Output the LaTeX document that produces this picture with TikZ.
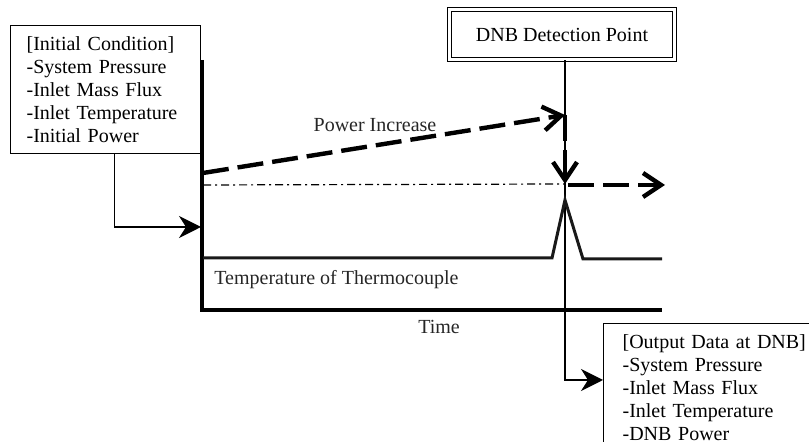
\documentclass[tikz,border=0pt]{standalone}
\usepackage{fontspec}
\setmainfont{Liberation Serif}
\usetikzlibrary{arrows.meta, positioning, calc}
\tikzset{
    box_cond/.style={
        rectangle, draw=black, line width=0.6pt, anchor=north west,
        align=left, text width=79pt, inner xsep=8pt, inner ysep=3pt,
        minimum height=64pt, font=\fontsize{10}{11.5}\selectfont
    },
    box_dnb/.style={
        rectangle, draw=black, double, line width=0.7pt, double distance=1.2pt,
        minimum width=112.4pt, minimum height=24.9pt,
        align=center, font=\fontsize{10}{12}\selectfont
    },
    axis_line/.style={
        draw=black, line width=1.7pt
    },
    temp_line/.style={
        draw=black!90, line width=1.5pt, line join=miter
    },
    power_arrow/.style={
        -{Straight Barb[length=9pt, width=12pt]}, draw=black, line width=2.2pt,
        dash pattern=on 13pt off 4.5pt
    },
    guide_line/.style={
        draw=black, line width=0.6pt, dash pattern=on 4pt off 2pt on 1pt off 2pt
    },
    feed_arrow/.style={
        -{Stealth[length=11pt, width=11pt, inset=3.5pt]}, draw=black, line width=0.7pt
    },
    lbl/.style={
        font=\fontsize{10}{12}\selectfont, text=black!85, inner sep=0pt
    }
}
\begin{document}
\begin{tikzpicture}[x=0.5pt, y=-0.5pt]

    \useasboundingbox (0,0) rectangle (809,442);
    \clip (0,0) rectangle (809,442);

    % --- Frame: axes and reference points ---
    \coordinate (ytop)   at (202,60);
    \coordinate (origin) at (202,310);
    \coordinate (xend)   at (662,310);
    \coordinate (inpt)   at (201,227);
    \coordinate (pstart) at (203,173);
    \coordinate (ptip)   at (565,115);
    \coordinate (dnbpt)  at (565,184);
    \coordinate (fstart) at (203,185);
    \coordinate (fend)   at (665,185);

    % --- Boxes: conditions in, detection, data out ---
    \node[box_cond] (init) at (10,25) {
        [Initial Condition]\\
        -System Pressure\\
        -Inlet Mass Flux\\
        -Inlet Temperature\\
        -Initial Power
    };

    \node[box_dnb] (dnb) at (562,34.5) {DNB Detection Point};

    \node[box_cond, inner xsep=9.5pt, text width=110pt] (out) at (603,323) {
        [Output Data at DNB]\\
        -System Pressure\\
        -Inlet Mass Flux\\
        -Inlet Temperature\\
        -DNB Power
    };

    % =========================================================================
    % DETECTION LINE (drawn first, thick traces go over it)
    % =========================================================================
    \draw[feed_arrow] ([xshift=1.5pt]dnb.south) |- ([yshift=-28.5pt]out.north west);

    % 1. Axes
    \draw[axis_line] (ytop) -- (origin) -- (xend);

    % 2. Initial condition -> axis
    \draw[feed_arrow] ([xshift=4.5pt]init.south) |- (inpt);

    % 3. Flow line and power ramp
    \draw[guide_line] (fstart) -- (dnbpt);
    \draw[power_arrow] (pstart) -- (ptip);
    \draw[power_arrow] (ptip) -- (dnbpt);
    \draw[power_arrow] (dnbpt |- fend) ++(3,0) -- (fend);

    % 4. Thermocouple temperature with the DNB spike
    \draw[temp_line] (203,258) -- (552,258) -- (565,200) -- (583,259) -- (662,259);

    % 5. Labels
    \node[lbl] (power) at (375,125) {Power Increase};
    \node[lbl, anchor=west] (temp) at (214,280) {Temperature of Thermocouple};
    \node[lbl] (time) at (439,327) {Time};

\end{tikzpicture}
\end{document}
